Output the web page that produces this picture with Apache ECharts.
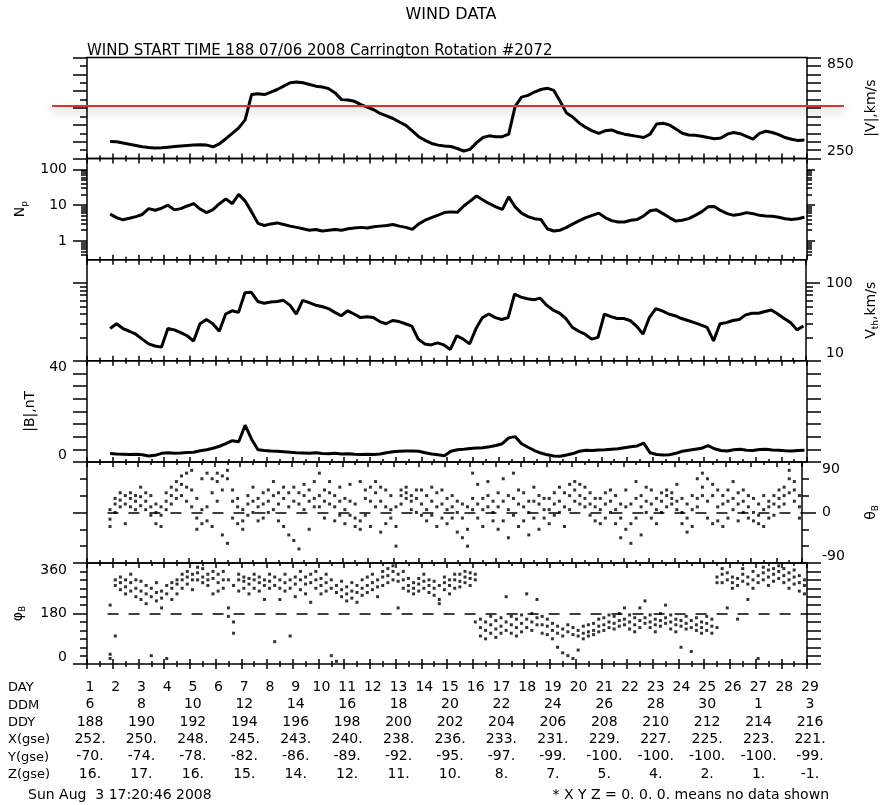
<!DOCTYPE html>
<html>
<head>
<meta charset="utf-8">
<title>WIND DATA</title>
<script src="https://cdn.jsdelivr.net/npm/echarts@6.0.0/dist/echarts.min.js"></script>
<style>
  html, body { margin: 0; padding: 0; background: #fff; }
  #main { width: 888px; height: 805px; }
</style>
</head>
<body>
<div id="main"></div>
<script>
// day of year of the first sample, and spacing of the line panels (days)
var start = 188.9, step = 0.25;

// |V| km/s
var speed = [352,
  350, 343, 335, 328,  320, 316, 313, 314,  318, 322, 325, 328,  330, 332, 330, 320,
  338, 368, 400, 432,  480, 630, 635, 630,  645, 660, 680, 700,  705, 700, 690, 680,
  675, 665, 640, 600,  598, 590, 570, 555,  540, 518, 503, 488,  467, 447, 415, 380,
  358, 340, 330, 325,  322, 310, 295, 305,  345, 375, 385, 380,  380, 395, 560, 615,
  625, 645, 660, 668,  655, 590, 520, 495,  460, 435, 415, 400,  415, 420, 405, 395,
  388, 382, 375, 395,  455, 460, 450, 425,  400, 390, 388, 383,  375, 368, 372, 395,
  405, 398, 382, 365,  400, 412, 405, 392,  375, 365, 358, 360];

// Np  (cm^-3)
var density = [5.6,
  4.5, 3.9, 4.3, 4.8,  5.5, 8.0, 7.2, 8.2,  10.0, 7.4, 8.0, 9.5,  11.0, 7.8, 6.2, 7.5,
  11, 15, 11, 20,  13, 6.5, 3.1, 2.7,  3.0, 3.2, 2.9, 2.6,  2.4, 2.2, 2.0, 2.1,
  1.9, 2.0, 2.1, 2.0,  2.2, 2.3, 2.4, 2.3,  2.5, 2.6, 2.7, 2.9,  2.6, 2.4, 2.1, 3.0,
  3.8, 4.5, 5.3, 6.2,  6.5, 6.3, 9.5, 13,  18, 14, 11, 9,  7.6, 17, 9, 6,
  4.8, 4.2, 4.0, 2.2,  1.9, 2.0, 2.4, 3.0,  3.7, 4.5, 5.2, 6.0,  4.5, 3.7, 3.4, 3.4,
  3.8, 4.0, 5.0, 7.0,  7.4, 5.8, 4.5, 3.6,  3.8, 4.2, 5.2, 6.5,  9.0, 9.2, 7.0, 5.8,
  5.2, 5.6, 6.2, 5.8,  5.2, 5.0, 4.9, 4.6,  4.2, 4.0, 4.2, 4.6];

// Vth km/s
var thermal = [26,
  30, 26, 24, 22,  19, 16.5, 15.5, 15,  26, 25, 23, 21,  18, 30, 34, 30,
  24, 40, 44, 42,  75, 76, 58, 55,  57, 58, 60, 52,  40, 60, 56, 52,
  50, 47, 42, 38,  44, 40, 36, 37,  36, 32, 30, 33,  32, 30, 28, 19,
  16.5, 16, 17, 16,  14, 21, 19, 16.5,  26, 36, 40, 36,  34, 36, 72, 66,
  63, 61, 64, 52,  45, 41, 35, 27,  24, 22, 19, 20,  40, 37, 35, 35,
  33, 28, 22, 36,  47, 44, 40, 38,  35, 33, 31, 29,  27, 18, 30, 31,
  33, 34, 39, 41,  41, 43, 45, 40,  35, 31, 25, 28];

// |B| nT
var field = [3.3,
  3.1, 3.0, 2.9, 3.0,  2.8, 2.3, 2.6, 3.4,  3.6, 3.4, 3.5, 3.7,  3.8, 4.4, 4.8, 5.4,
  6.2, 7.2, 8.4, 8.0,  14.5, 9.0, 4.8, 4.5,  4.3, 4.2, 4.0, 3.8,  3.6, 3.5, 3.4, 3.6,
  3.3, 3.2, 3.4, 3.1,  3.2, 3.0, 2.9, 3.0,  2.9, 3.1, 3.6, 4.0,  4.2, 4.3, 4.3, 4.2,
  3.6, 3.1, 2.8, 2.4,  4.2, 4.8, 5.0, 5.3,  5.5, 5.6, 6.0, 6.5,  7.2, 9.5, 10.0, 7.2,
  5.8, 4.5, 3.5, 2.8,  2.3, 2.2, 2.7, 3.3,  4.2, 4.6, 4.5, 4.7,  4.8, 5.0, 5.2, 5.6,
  6.0, 6.3, 7.4, 3.6,  2.9, 2.7, 2.8, 3.4,  4.2, 4.6, 5.0, 5.4,  6.4, 5.2, 4.5, 4.3,
  4.8, 5.0, 4.6, 4.5,  4.9, 5.0, 4.7, 4.6,  4.4, 4.3, 4.5, 4.6];

// angle panels: three samples per column, one column every 0.2 day from 188.9
var colStart = 188.9, colStep = 0.2;
var thetaCols = [
  [-12, -25, 5], [15, 0, 25], [35, 22, 10], [30, 15, -20], [25, 10, 35], [20, 30, 5],
  [28, 12, 45], [20, 5, 35], [10, -5, 30], [15, 0, -20], [-5, 10, -25],
  [20, 35, 5], [30, 45, 15], [40, 55, 25], [50, 65, 30], [45, 70, 20],
  [40, 10, 75], [-10, 25, -30], [-20, 5, 60], [-15, 10, 70], [35, 60, -25],
  [55, 70, 20], [65, 40, -40], [60, 75, -55], [40, 20, -10], [10, -20, 25],
  [-15, 5, -30], [15, 30, -5], [0, 20, 45], [25, 10, -15], [15, -10, 35],
  [20, 40, 0], [30, 5, 55], [15, -15, 35], [25, 45, -25], [35, 10, -40],
  [20, -50, 45], [35, 15, -65], [30, 50, 5], [40, 20, -30], [25, 55, 10],
  [30, 10, 70], [20, 40, -10], [35, 15, 55], [10, -15, 30], [20, 45, -5],
  [5, 25, -20], [-5, 20, 50], [-25, -10, 15], [-30, -15, 55], [25, 40, -5],
  [45, 20, -25], [35, 55, 10], [20, -35, 45], [-20, 10, 40], [30, -10, 5],
  [-25, -60, 10], [30, 15, 40], [35, 25, 45], [30, 20, 5], [25, 0, 40],
  [15, -5, 40], [5, -15, 30], [20, 45, -5], [10, 35, -25], [15, 40, -10],
  [5, 25, -20], [10, -10, 30], [0, 20, -35], [-10, -45, 15], [-30, -60, 10],
  [5, 25, 70], [15, -10, 50], [25, 5, -25], [30, 10, 55], [20, 0, -15],
  [10, 35, -30], [20, -15, 60], [5, 30, -45], [25, -5, 70], [15, -25, 40],
  [10, -15, 35], [0, 20, -40], [20, -10, 45], [15, -30, 30], [5, 25, -10],
  [25, 5, -20], [15, 35, -5], [20, 0, 45], [35, 10, -25], [30, 50, 5],
  [40, 55, 20], [50, 30, 15], [25, 10, 45], [15, -5, 35], [10, 25, -15],
  [5, 25, -20], [15, 35, -10], [20, 0, 40], [5, -20, 30], [-10, 15, -45],
  [10, -30, 40], [-20, 15, -55], [25, -10, 55], [30, 10, -40], [20, 45, 0],
  [15, -10, 40], [5, 25, -20], [20, 35, 0], [30, 40, 10], [35, 25, 15],
  [20, 5, 50], [0, -20, 25], [-10, 15, -35], [5, -25, 30], [25, 10, 60],
  [45, 30, 70], [60, 20, -10], [30, -20, 50], [-15, 10, 40], [15, 30, -25],
  [20, 40, -10], [25, 5, 55], [15, 35, -15], [20, 0, 40], [10, -10, 30],
  [0, -15, 25], [-20, -5, 15], [-25, 5, 30], [-10, 20, 10], [15, 30, -5],
  [25, 10, 40], [30, 45, 15], [60, 75, 35], [40, 20, 55], [10, -10, 30]];

var phiCols = [
  [20, 35, 210], [300, 280, 100], [290, 310, 265], [275, 300, 250], [290, 260, 320], [270, 240, 300],
  [260, 230, 295], [250, 280, 215], [240, 270, 30], [255, 225, 290], [235, 260, 200],
  [250, 280, 20], [270, 290, 230], [285, 300, 250], [300, 270, 320], [310, 285, 330],
  [300, 320, 265], [325, 300, 345], [310, 290, 340], [320, 300, 280], [305, 330, 250],
  [290, 320, 260], [300, 270, 330], [200, 170, 300], [150, 280, 110], [300, 260, 320],
  [295, 310, 270], [285, 305, 250], [300, 270, 320], [290, 260, 310], [280, 300, 230],
  [295, 270, 320], [310, 280, 80], [270, 300, 230], [290, 320, 260], [300, 270, 100],
  [285, 310, 240], [300, 265, 330], [310, 285, 250], [290, 320, 220], [270, 300, 330],
  [280, 250, 305], [290, 260, 320], [270, 300, 30], [255, 280, 10], [265, 240, 295],
  [250, 275, 225], [260, 235, 290], [255, 280, 220], [270, 245, 300], [280, 255, 310],
  [290, 265, 320], [300, 275, 240], [310, 330, 280], [340, 315, 290], [330, 350, 300],
  [320, 295, 200], [300, 270, 330], [280, 260, 305], [270, 290, 250], [285, 260, 305],
  [295, 270, 320], [280, 300, 255], [270, 245, 295], [215, 230, 280], [290, 265, 310],
  [280, 300, 250], [300, 270, 320], [295, 320, 275], [310, 290, 330], [305, 325, 280],
  [300, 150, 320], [130, 160, 100], [120, 90, 150], [140, 110, 170], [125, 155, 95],
  [135, 110, 165], [150, 120, 240], [140, 170, 110], [130, 160, 100], [145, 115, 175],
  [160, 130, 250], [150, 180, 120], [165, 140, 230], [140, 170, 110], [135, 160, 105],
  [120, 145, 90], [110, 135, 60], [125, 100, 40], [115, 140, 30], [105, 130, 20],
  [100, 120, 50], [110, 90, 135], [115, 100, 140], [120, 145, 105], [135, 115, 160],
  [140, 165, 120], [150, 130, 175], [145, 170, 125], [155, 135, 180], [160, 140, 200],
  [150, 175, 125], [140, 165, 115], [155, 130, 200], [165, 145, 225], [150, 175, 130],
  [140, 160, 115], [155, 135, 180], [165, 145, 210], [150, 175, 125], [140, 160, 115],
  [135, 155, 60], [145, 125, 170], [155, 130, 45], [140, 165, 120], [130, 150, 110],
  [145, 120, 170], [135, 160, 110], [310, 290, 130], [320, 290, 340], [300, 325, 200],
  [290, 270, 310], [305, 280, 160], [320, 295, 340], [310, 285, 230], [300, 330, 270],
  [315, 290, 20], [325, 300, 345], [310, 335, 280], [320, 295, 340], [330, 305, 350],
  [315, 340, 290], [300, 325, 270], [310, 285, 335], [290, 315, 260], [280, 250, 300]];

// red reference speed and the dashed reference levels
var redLine = 565;
var thetaRef = 0, phiRef = 180, refFrom = 188.8;

// table under the plot (every 2 days from DOY 188)
var rowNames = ['DAY', 'DDM', 'DDY', 'X(gse)', 'Y(gse)', 'Z(gse)'];
var ddm = [6, 8, 10, 12, 14, 16, 18, 20, 22, 24, 26, 28, 30, 1, 3];
var xgse = [252, 250, 248, 245, 243, 240, 238, 236, 233, 231, 229, 227, 225, 223, 221];
var ygse = [-70, -74, -78, -82, -86, -89, -92, -95, -97, -99, -100, -100, -100, -100, -99];
var zgse = [16, 17, 16, 15, 14, 12, 11, 10, 8, 7, 5, 4, 2, 1, -1];

var font = '"DejaVu Sans", sans-serif';
var black = '#000';
var dayMin = 188, dayMax = 216;

var grid = [], xAxis = [], yAxis = [], series = [];
var panelTop = 57.5, panelH = 101.1;
for (var g = 0; g < 6; g++) {
  grid.push({ left: 87, right: 81, top: panelTop + g * panelH, height: panelH,
    show: true, borderColor: black, borderWidth: 1.5 });
}
// overlay grid for the red line, wider than the panels
grid.push({ left: 52, right: 44, top: panelTop, height: panelH });

function tick(len, inside, extra) {
  var t = { show: true, inside: !!inside, length: len, lineStyle: { color: black, width: 1.5 } };
  for (var k in extra) t[k] = extra[k];
  return t;
}
function label(extra) {
  var l = { show: true, color: black, fontSize: 14, fontFamily: font, margin: 20,
    verticalAlignMaxLabel: 'top', verticalAlignMinLabel: 'bottom' };
  for (var k in extra) l[k] = extra[k];
  return l;
}
function addX(gi, opt) {
  var a = { type: 'value', gridIndex: gi, position: 'bottom', min: dayMin, max: dayMax, interval: 1,
    axisLine: { show: false, onZero: false }, splitLine: { show: false }, axisLabel: { show: false },
    axisTick: tick(5, true),
    minorTick: { show: true, splitNumber: 2, length: 3, lineStyle: { color: black, width: 1.5 } } };
  for (var k in opt) a[k] = opt[k];
  xAxis.push(a);
  return xAxis.length - 1;
}
function addY(gi, pos, opt) {
  var a = { type: 'value', gridIndex: gi, position: pos,
    axisLine: { show: false, onZero: false }, splitLine: { show: false }, axisLabel: { show: false },
    axisTick: tick(14), minorTick: { show: false },
    nameLocation: 'middle', nameRotate: 90,
    nameTextStyle: { color: black, fontSize: 14, fontFamily: font } };
  for (var k in opt) a[k] = opt[k];
  yAxis.push(a);
  return yAxis.length - 1;
}
function minor(n, len) {
  return { show: true, splitNumber: n, length: len, lineStyle: { color: black, width: 1.5 } };
}
function logMinor(lo, hi) {
  var out = [];
  for (var d = -1; d <= 2; d++) {
    for (var k = 2; k <= 9; k++) {
      var v = Math.log10(k * Math.pow(10, d));
      if (v > lo + 1e-6 && v < hi - 1e-6) out.push(v);
    }
  }
  return out;
}
function pow10(v) { return String(Math.round(Math.pow(10, v))); }
function subName(main, sub) {
  return { text: '{a|' + main + '}{b|' + sub + '}',
    rich: { a: { fontSize: 14, fontFamily: font, color: black, lineHeight: 18 },
            b: { fontSize: 9, fontFamily: font, color: black, lineHeight: 18, verticalAlign: 'bottom' } } };
}

// bottom axes with inside ticks for every panel, top axes for panels below the first
var xb = [];
for (var g2 = 0; g2 < 6; g2++) {
  xb.push(addX(g2, {}));
  if (g2 > 0) addX(g2, { position: 'top' });
}
addX(5, { axisTick: tick(5, false) });

// panel 0: |V|
var yV = addY(0, 'left', { min: 250, max: 850, interval: 100, minorTick: minor(2, 7) });
addY(0, 'right', { min: 250, max: 850, interval: 50,
  axisLabel: label({ customValues: [250, 850] }),
  name: '|V|,km/s', nameGap: 52 });

// panel 1: Np (log)
var npLo = Math.log10(0.3), npHi = Math.log10(200);
var nN = subName('N', 'p');
var yN = addY(1, 'left', { min: npLo, max: npHi,
  axisTick: tick(14, false, { customValues: [0, 1, 2] }),
  axisLabel: label({ customValues: [0, 1, 2], formatter: pow10, verticalAlignMaxLabel: null, verticalAlignMinLabel: null }),
  name: nN.text, nameGap: 55,
  nameTextStyle: { color: black, fontSize: 14, fontFamily: font, rich: nN.rich } });
addY(1, 'left', { min: npLo, max: npHi, axisTick: tick(6, false, { customValues: logMinor(npLo, npHi) }) });
addY(1, 'right', { min: npLo, max: npHi, axisTick: tick(8, false, { customValues: [0, 1, 2] }) });
addY(1, 'right', { min: npLo, max: npHi, axisTick: tick(5, false, { customValues: logMinor(npLo, npHi) }) });

// panel 2: Vth (log)
var vtLo = 1, vtHi = Math.log10(200);
var nV = subName('V', 'th');
var yT = addY(2, 'left', { min: vtLo, max: vtHi, axisTick: tick(14, false, { customValues: [1, 2] }) });
addY(2, 'left', { min: vtLo, max: vtHi, axisTick: tick(7, false, { customValues: logMinor(vtLo, vtHi) }) });
addY(2, 'right', { min: vtLo, max: vtHi,
  axisTick: tick(14, false, { customValues: [1, 2] }),
  axisLabel: label({ customValues: [1, 2], formatter: pow10, verticalAlignMaxLabel: null }),
  name: nV.text + '{a|,km/s}', nameGap: 56,
  nameTextStyle: { color: black, fontSize: 14, fontFamily: font, rich: nV.rich } });
addY(2, 'right', { min: vtLo, max: vtHi, axisTick: tick(7, false, { customValues: logMinor(vtLo, vtHi) }) });

// panel 3: |B|
var yB = addY(3, 'left', { min: 0, max: 40, interval: 5,
  axisLabel: label({ customValues: [0, 40] }), name: '|B|,nT', nameGap: 50 });
addY(3, 'right', { min: 0, max: 40, interval: 5 });

// panel 4: theta
var nT = subName('θ', 'B');
var yTh = addY(4, 'left', { min: -90, max: 90, interval: 90, minorTick: minor(3, 7) });
addY(4, 'right', { min: -90, max: 90, interval: 90, minorTick: minor(3, 7),
  axisLabel: label({ customValues: [-90, 0, 90] }),
  name: nT.text, nameGap: 60,
  nameTextStyle: { color: black, fontSize: 14, fontFamily: font, rich: nT.rich } });

// panel 5: phi
var nP = subName('φ', 'B');
var yPh = addY(5, 'left', { min: 0, max: 360, interval: 180, minorTick: minor(6, 7),
  axisLabel: label({ customValues: [0, 180, 360] }),
  name: nP.text, nameGap: 60,
  nameTextStyle: { color: black, fontSize: 14, fontFamily: font, rich: nP.rich } });
addY(5, 'right', { min: 0, max: 360, interval: 30 });

// table rows under the last panel
var rowOffsets = [14, 31.4, 48.8, 66.2, 83.6, 101];
function tableAxis(row, interval, fmt) {
  addX(5, { interval: interval, offset: rowOffsets[row],
    axisTick: { show: false }, minorTick: { show: false },
    axisLabel: { show: true, margin: 2, color: black, fontSize: 14, fontFamily: font,
      padding: [0, 0, 0, 6], showMinLabel: true, showMaxLabel: true, formatter: fmt } });
}
function idx(v) { return Math.round((v - dayMin) / 2); }
tableAxis(0, 1, function (v) { return String(Math.round(v) - dayMin + 1); });
tableAxis(1, 2, function (v) { return String(ddm[idx(v)]); });
tableAxis(2, 2, function (v) { return String(Math.round(v)); });
tableAxis(3, 2, function (v) { return xgse[idx(v)] + '.'; });
tableAxis(4, 2, function (v) { return ygse[idx(v)] + '.'; });
tableAxis(5, 2, function (v) { return zgse[idx(v)] + '.'; });

// red line overlay axes
var xr = addX(6, { show: false });
var yr = addY(6, 'left', { show: false, min: 250, max: 850 });

function timeSeries(vals, log) {
  return vals.map(function (v, i) {
    return [+(start + i * step).toFixed(3), log ? Math.log10(v) : v];
  });
}
function colSeries(cols) {
  var out = [];
  cols.forEach(function (c, i) {
    var t = +(colStart + i * colStep).toFixed(2);
    c.forEach(function (v) { out.push([t, v]); });
  });
  return out;
}
function lineSeries(gi, yi, data) {
  return { type: 'line', xAxisIndex: xb[gi], yAxisIndex: yi, data: data,
    symbol: 'none', lineStyle: { color: black, width: 3 }, clip: true };
}
function dashRef(y) {
  return { silent: true, symbol: 'none', label: { show: false },
    lineStyle: { color: black, width: 1.6, type: [11, 10] },
    data: [[{ coord: [refFrom, y] }, { coord: [dayMax, y] }]] };
}

series.push(lineSeries(0, yV, timeSeries(speed)));
series.push(lineSeries(1, yN, timeSeries(density, true)));
series.push(lineSeries(2, yT, timeSeries(thermal, true)));
series.push(lineSeries(3, yB, timeSeries(field)));
series.push({ type: 'scatter', xAxisIndex: xb[4], yAxisIndex: yTh, data: colSeries(thetaCols),
  symbol: 'rect', symbolSize: 3, itemStyle: { color: black }, markLine: dashRef(thetaRef) });
series.push({ type: 'scatter', xAxisIndex: xb[5], yAxisIndex: yPh, data: colSeries(phiCols),
  symbol: 'rect', symbolSize: 3, itemStyle: { color: black }, markLine: dashRef(phiRef) });
series.push({ type: 'line', xAxisIndex: xr, yAxisIndex: yr, data: [], z: 20,
  markLine: { silent: true, symbol: 'none', label: { show: false },
    lineStyle: { color: '#e2312a', width: 2, type: 'solid',
      shadowColor: 'rgba(0,0,0,0.35)', shadowBlur: 8, shadowOffsetY: 5 },
    data: [{ yAxis: redLine }] } });

function text(str, x, y, align, size) {
  return { type: 'text', x: x, y: y, silent: true,
    style: { text: str, fill: black, font: size + 'px ' + font,
      align: align, textAlign: align, verticalAlign: 'middle', textVerticalAlign: 'middle' } };
}
var graphic = [
  text('WIND DATA', 451, 15, 'center', 16),
  text('WIND START TIME 188 07/06 2008 Carrington Rotation #2072', 87, 51.5, 'left', 15),
  text('Sun Aug  3 17:20:46 2008', 28, 795, 'left', 14),
  text('* X Y Z = 0. 0. 0. means no data shown', 829, 795, 'right', 14)
];
var rowY = [688, 705.5, 723, 740, 757.5, 775];
rowNames.forEach(function (n, i) { graphic.push(text(n, 8, rowY[i], 'left', 13)); });

var chart = echarts.init(document.getElementById('main'));
chart.setOption({
  animation: false,
  backgroundColor: '#fff',
  textStyle: { fontFamily: font, color: black },
  grid: grid,
  xAxis: xAxis,
  yAxis: yAxis,
  series: series,
  graphic: graphic
});
</script>
</body>
</html>
